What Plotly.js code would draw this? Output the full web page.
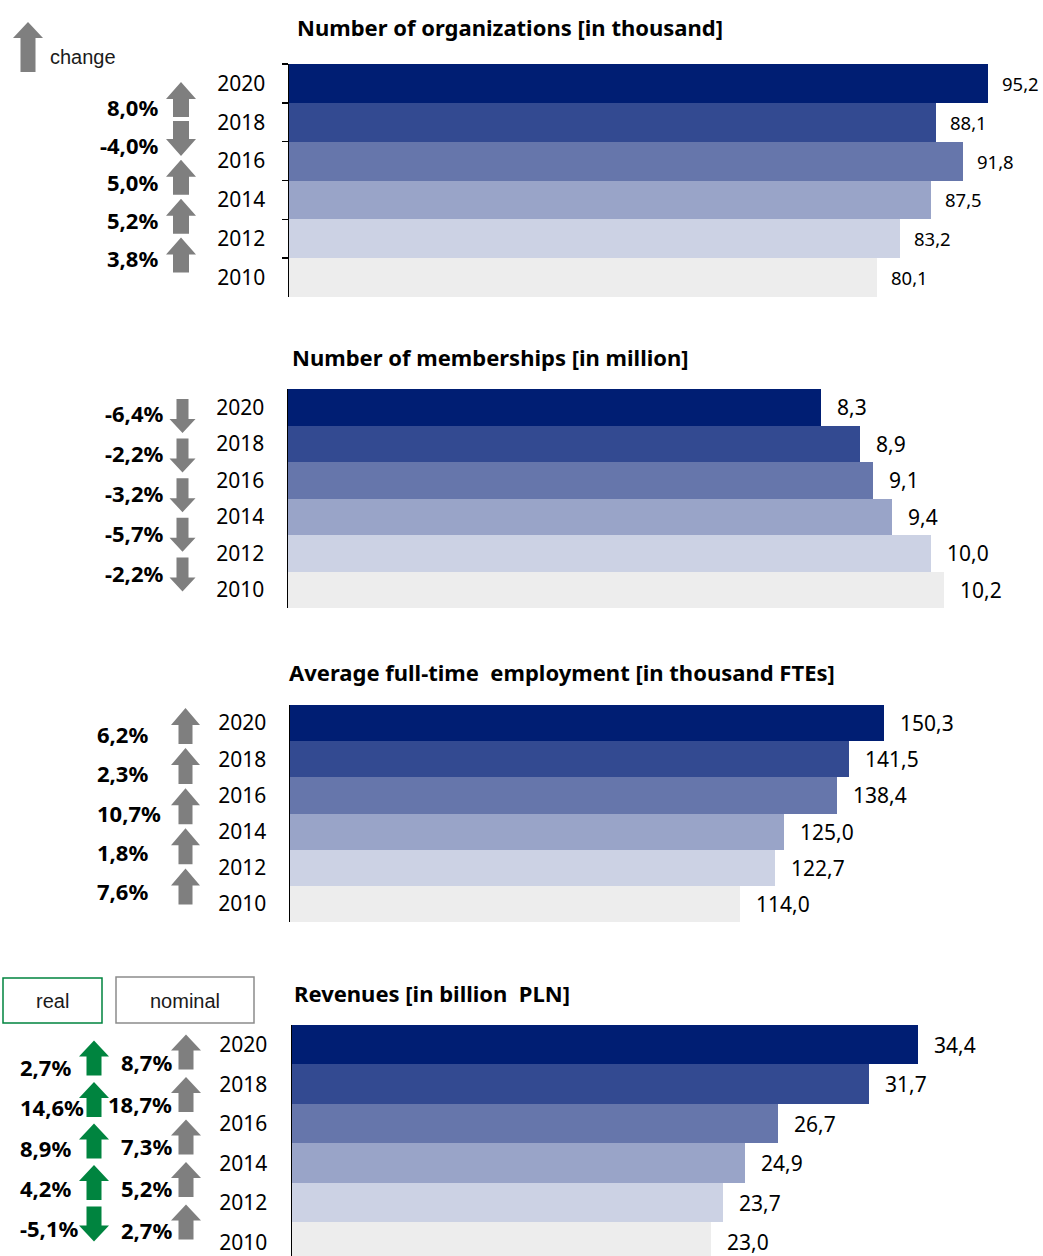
<!DOCTYPE html>
<html><head><meta charset="utf-8">
<script src="https://cdn.plot.ly/plotly-3.0.1.min.js"></script>
<style>html,body{margin:0;padding:0;background:#fff}#chart{width:1043px;height:1256px}</style>
</head><body><div id="chart"></div>
<script>
// ---------- data ----------
const years = ['2010', '2012', '2014', '2016', '2018', '2020'];
const organizations = [80.1, 83.2, 87.5, 91.8, 88.1, 95.2];   // thousand
const memberships = [10.2, 10.0, 9.4, 9.1, 8.9, 8.3];          // million
const employment = [114.0, 122.7, 125.0, 138.4, 141.5, 150.3]; // thousand FTEs
const revenues = [23.0, 23.7, 24.9, 26.7, 31.7, 34.4];         // billion PLN
// changes, listed top to bottom: 2018→2020, 2016→2018, 2014→2016, 2012→2014, 2010→2012
const orgChange = [8.0, -4.0, 5.0, 5.2, 3.8];
const memChange = [-6.4, -2.2, -3.2, -5.7, -2.2];
const empChange = [6.2, 2.3, 10.7, 1.8, 7.6];
const revRealChange = [2.7, 14.6, 8.9, 4.2, -5.1];
const revNominalChange = [8.7, 18.7, 7.3, 5.2, 2.7];
const titles = [
  'Number of organizations [in thousand]',
  'Number of memberships [in million]',
  'Average full-time  employment [in thousand FTEs]',
  'Revenues [in billion  PLN]'
];
const legendLabels = ['change', 'real', 'nominal'];

// ---------- styles ----------
const W = 1043, H = 1256;
const px = v => v / W, py = v => 1 - v / H;
const yearColors = ['#ededed', '#ccd2e4', '#99a4c8', '#6676ab', '#334a91', '#001e73'];
const GRAY = '#7f7f7f', GREEN = '#00843f';
const FONT = 'Noto Sans, DejaVu Sans, sans-serif';
const ARIAL = 'Liberation Sans, Arial, sans-serif';
const fmt = v => v.toFixed(1).replace('.', ',');

const panels = [
  { values: organizations, title: titles[0], titleX: 295, titleY: 27,
    left: 289, right: 1040, top: 64, bottom: 297, xmax: 102.3, yrange: [-0.5, 5.5],
    ticks: true, standoff: 18, valueSize: 18.5, valueShift: 12,
    sets: [{ changes: orgChange, color: GRAY, xc: 181, first: 99.5, pitch: 38.9, h: 35, hw: 30, hh: 17, sw: 16,
             lx: 160, lanchor: 'right', lfirst: 107, lpitch: 37.75 }] },
  { values: memberships, title: titles[1], titleX: 290, titleY: 357,
    left: 288, right: 1040, top: 389, bottom: 608, xmax: 11.7, yrange: [-0.5, 5.5],
    ticks: false, standoff: 18, valueSize: 21, valueShift: 14,
    sets: [{ changes: memChange, color: GRAY, xc: 182.5, first: 416, pitch: 39.6, h: 34, hw: 26, hh: 14, sw: 12,
             lx: 165, lanchor: 'right', lfirst: 413, lpitch: 40 }] },
  { values: employment, title: titles[2], titleX: 287, titleY: 672,
    left: 290, right: 1040, top: 705, bottom: 922, xmax: 189.8, yrange: [-0.5, 5.5],
    ticks: false, standoff: 18, valueSize: 21, valueShift: 14,
    sets: [{ changes: empChange, color: GRAY, xc: 185.5, first: 726, pitch: 40.1, h: 36, hw: 29, hh: 17, sw: 14,
             lx: 95, lanchor: 'left', lfirst: 734, lpitch: 39.25 }] },
  { values: revenues, title: titles[3], titleX: 292, titleY: 993,
    left: 292, right: 1040, top: 1025, bottom: 1256, xmax: 41.1, yrange: [-0.35, 5.5],
    ticks: false, standoff: 19, valueSize: 21, valueShift: 14,
    sets: [
      { changes: revRealChange, color: GREEN, xc: 94, first: 1058, pitch: 41.5, h: 35, hw: 30, hh: 16, sw: 15,
        lx: 18, lanchor: 'left', lfirst: 1067, lpitch: 40.25 },
      { changes: revNominalChange, color: GRAY, xc: 186, first: 1052, pitch: 42.5, h: 35, hw: 30, hh: 16, sw: 15,
        lx: 174, lanchor: 'right', lfirst: 1062, lpitch: 42 }
    ] }
];

function arrowPath(dir, a) {
  const h = a.h / 2, s = a.sw / 2, w = a.hw / 2, b = h - a.hh;
  const pts = [[-s, -h], [s, -h], [s, b], [w, b], [0, h], [-w, b], [-s, b]];
  return 'M' + pts.map(p => p[0] + ',' + (p[1] * dir)).join(' L') + ' Z';
}
function arrowShape(xc, yc, dir, a, color) {
  return { type: 'path', xref: 'paper', yref: 'paper', xsizemode: 'pixel', ysizemode: 'pixel',
    xanchor: px(xc), yanchor: py(yc), path: arrowPath(dir, a), fillcolor: color, line: { width: 0 }, layer: 'above' };
}

const data = [], shapes = [], annotations = [];
const layout = {
  width: W, height: H, margin: { l: 0, r: 0, t: 0, b: 0 },
  paper_bgcolor: '#ffffff', plot_bgcolor: '#ffffff',
  font: { family: FONT, color: '#000000' },
  showlegend: false, bargap: 0, hovermode: false
};

panels.forEach((p, k) => {
  const n = k + 1, xs = n === 1 ? '' : n, ys = n === 1 ? '' : n;
  data.push({
    type: 'bar', orientation: 'h', x: p.values, y: years,
    xaxis: 'x' + xs, yaxis: 'y' + ys,
    marker: { color: yearColors, line: { width: 0 } }, width: 1
  });
  layout['xaxis' + xs] = {
    domain: [px(p.left), px(p.right)], range: [0, p.xmax], anchor: 'y' + ys,
    showgrid: false, zeroline: false, showline: false, showticklabels: false, ticks: '', fixedrange: true
  };
  const ya = {
    domain: [py(p.bottom), py(p.top)], type: 'category', categoryorder: 'array', categoryarray: years,
    range: p.yrange, anchor: 'x' + xs, showgrid: false, zeroline: false,
    showline: true, linecolor: '#000000', linewidth: 1.5,
    ticks: p.ticks ? 'outside' : '', ticklen: 6, tickwidth: 1.5, tickcolor: '#000000',
    ticklabelstandoff: p.standoff,
    tickfont: { family: FONT, size: 21, color: '#000000' }, fixedrange: true
  };
  if (p.ticks) ya.tickson = 'boundaries';
  layout['yaxis' + ys] = ya;
  // value labels (y given as category serial number)
  p.values.forEach((v, i) => {
    annotations.push({ xref: 'x' + xs, yref: 'y' + ys, x: v, y: i, text: fmt(v),
      xanchor: 'left', yanchor: 'middle', xshift: p.valueShift, showarrow: false,
      font: { family: FONT, size: p.valueSize, color: '#000000' } });
  });
  // title
  annotations.push({ xref: 'paper', yref: 'paper', x: px(p.titleX), y: py(p.titleY), text: '<b>' + p.title + '</b>',
    xanchor: 'left', yanchor: 'middle', showarrow: false, font: { family: FONT, size: 22, color: '#000000' } });
  // change arrows + labels
  p.sets.forEach(s => {
    s.changes.forEach((c, i) => {
      const dir = c >= 0 ? 1 : -1;
      shapes.push(arrowShape(s.xc, s.first + i * s.pitch, dir, s, s.color));
      annotations.push({ xref: 'paper', yref: 'paper', x: px(s.lx), y: py(s.lfirst + i * s.lpitch),
        text: '<b>' + fmt(c) + '%</b>', xanchor: s.lanchor, yanchor: 'middle', showarrow: false,
        font: { family: FONT, size: 22, color: '#000000' } });
    });
  });
});

// legend: change arrow
shapes.push(arrowShape(28, 47, 1, { h: 50, hw: 30, hh: 16, sw: 15 }, GRAY));
annotations.push({ xref: 'paper', yref: 'paper', x: px(48), y: py(57), text: legendLabels[0],
  xanchor: 'left', yanchor: 'middle', showarrow: false, font: { family: ARIAL, size: 20, color: '#1a1a1a' } });
// legend: real / nominal boxes
shapes.push({ type: 'rect', xref: 'paper', yref: 'paper', x0: px(3), x1: px(102), y0: py(1023), y1: py(978),
  line: { color: GREEN, width: 1.5 }, fillcolor: 'rgba(0,0,0,0)' });
shapes.push({ type: 'rect', xref: 'paper', yref: 'paper', x0: px(116), x1: px(254), y0: py(1023), y1: py(977),
  line: { color: '#8c8c8c', width: 1.5 }, fillcolor: 'rgba(0,0,0,0)' });
annotations.push({ xref: 'paper', yref: 'paper', x: px(52), y: py(1001), text: legendLabels[1],
  xanchor: 'center', yanchor: 'middle', showarrow: false, font: { family: ARIAL, size: 20, color: '#1a1a1a' } });
annotations.push({ xref: 'paper', yref: 'paper', x: px(185), y: py(1001), text: legendLabels[2],
  xanchor: 'center', yanchor: 'middle', showarrow: false, font: { family: ARIAL, size: 20, color: '#1a1a1a' } });

layout.shapes = shapes;
layout.annotations = annotations;
Plotly.newPlot('chart', data, layout, { staticPlot: true, displayModeBar: false });
</script>
</body></html>
